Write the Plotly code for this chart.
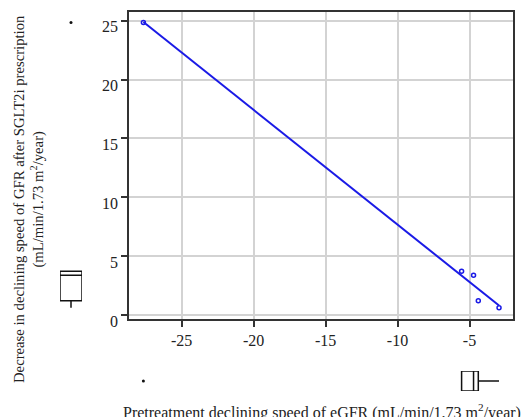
import numpy as np
import plotly.graph_objects as go

# Data
pre_decline = [-27.65, -5.55, -4.72, -4.39, -2.95]      # x: pretreatment declining speed of eGFR
gfr_decrease = [24.85, 3.72, 3.38, 1.20, 0.62]          # y: decrease after SGLT2i
x_ticks = [-25, -20, -15, -10, -5]
y_ticks = [0, 5, 10, 15, 20, 25]

W, H = 527, 417
def px(x):
    return x / W
def py(y):
    return 1 - y / H

slope, intercept = np.polyfit(pre_decline, gfr_decrease, 1)
fit_x = [min(pre_decline), max(pre_decline)]
fit_y = [slope * v + intercept for v in fit_x]

SERIF = "Liberation Serif"
TXT = "#222222"
BLUE = "#1a1ae6"

X_RANGE = [-28.65, -1.98]
Y_RANGE = [-0.37, 25.77]
X_DOM = [px(129), px(513)]
Y_DOM = [py(319.3), py(11.7)]

fig = go.Figure()

fig.add_trace(go.Scatter(
    x=fit_x, y=fit_y, mode="lines",
    line=dict(color=BLUE, width=2), showlegend=False, hoverinfo="skip"))
fig.add_trace(go.Scatter(
    x=pre_decline, y=gfr_decrease, mode="markers",
    marker=dict(symbol="circle-open", size=4, color=BLUE, line=dict(width=1.5, color=BLUE)),
    showlegend=False))

# Left marginal box (y values)
fig.add_trace(go.Box(
    y=gfr_decrease, x0=0, xaxis="x2", yaxis="y3",
    width=1, whiskerwidth=0, boxpoints="outliers", pointpos=0, jitter=0,
    quartilemethod="inclusive",
    line=dict(color="#111111", width=1.5), fillcolor="white",
    marker=dict(color="#111111", size=3), showlegend=False))

# Bottom marginal box (x values)
fig.add_trace(go.Box(
    x=pre_decline, y0=0, orientation="h", xaxis="x3", yaxis="y2",
    width=1, whiskerwidth=0, boxpoints="outliers", pointpos=0, jitter=0,
    quartilemethod="inclusive",
    line=dict(color="#111111", width=1.5), fillcolor="white",
    marker=dict(color="#111111", size=3), showlegend=False))

axis_common = dict(
    showline=True, linecolor="#333333", linewidth=1.5, mirror=True,
    showgrid=True, gridcolor="#d3d3d3", gridwidth=2,
    ticks="outside", ticklen=6, tickwidth=1.5, tickcolor="#333333",
    tickfont=dict(family=SERIF, size=16, color=TXT),
    zeroline=False, automargin=False,
)
hidden = dict(visible=False, showgrid=False, zeroline=False, automargin=False)

fig.update_layout(
    template="none",
    width=W, height=H,
    margin=dict(l=0, r=0, t=0, b=0, pad=0, autoexpand=False),
    paper_bgcolor="white", plot_bgcolor="white",
    showlegend=False,
    xaxis=dict(domain=X_DOM, range=X_RANGE,
               tickvals=x_ticks, ticktext=[str(v) for v in x_ticks],
               anchor="y", **axis_common),
    yaxis=dict(domain=Y_DOM, range=Y_RANGE,
               tickvals=y_ticks, ticktext=[str(v) for v in y_ticks],
               ticklabelshift=6,
               anchor="x", **axis_common),
    xaxis2=dict(domain=[px(60), px(82)], range=[-0.5, 0.5], anchor="y3", **hidden),
    yaxis3=dict(domain=Y_DOM, range=Y_RANGE, anchor="x2", **hidden),
    xaxis3=dict(domain=X_DOM, range=X_RANGE, anchor="y2", **hidden),
    yaxis2=dict(domain=[py(391), py(371)], range=[-0.5, 0.5], anchor="x3", **hidden),
    annotations=[
        dict(text="Decrease in declining speed of GFR after SGLT2i prescription<br>(mL/min/1.73 m<sup>2</sup>/year)",
             x=px(29), y=py(199), xref="paper", yref="paper",
             xanchor="center", yanchor="middle", textangle=-90, showarrow=False,
             font=dict(family=SERIF, size=14.7, color=TXT)),
        dict(text="Pretreatment declining speed of eGFR (mL/min/1.73 m<sup>2</sup>/year)",
             x=px(322), y=py(411), xref="paper", yref="paper",
             xanchor="center", yanchor="middle", showarrow=False,
             font=dict(family=SERIF, size=16, color=TXT)),
    ],
)

fig.write_html("out.html", config={"displayModeBar": False},
               post_script="document.body.style.margin='0';")
